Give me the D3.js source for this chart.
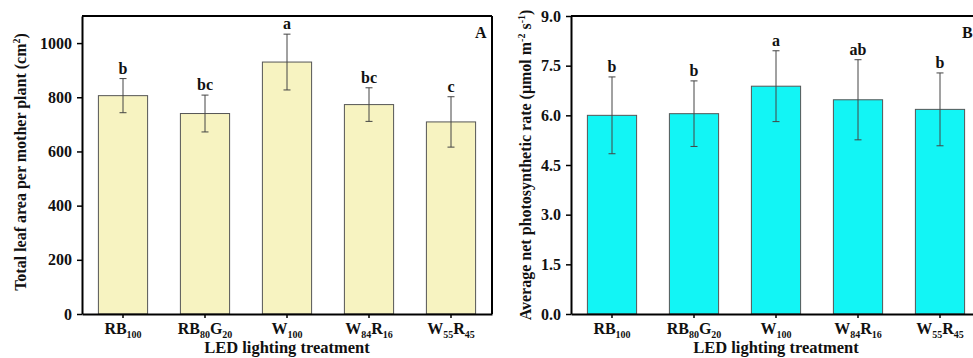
<!DOCTYPE html>
<html><head><meta charset="utf-8">
<script src="https://cdn.jsdelivr.net/npm/d3@7"></script>
<style>
body{margin:0;background:#fff;}
text{font-family:"Liberation Serif","Times New Roman",serif;font-weight:bold;fill:#111;}
</style></head>
<body><svg id="c" width="973" height="358"></svg>
<script>
// categories: [main, sub1, main2, sub2]
const categories = [
  ["RB","100","",""],
  ["RB","80","G","20"],
  ["W","100","",""],
  ["W","84","R","16"],
  ["W","55","R","45"]
];
const leafArea = [806, 740, 930, 773, 709];
const leafAreaErr = [63, 68, 103, 62, 93];
const leafLetters = ["b","bc","a","bc","c"];
const leafTicks = [0,200,400,600,800,1000];

const photo = [6.0, 6.05, 6.88, 6.47, 6.18];
const photoErr = [1.16, 0.99, 1.07, 1.21, 1.10];
const photoLetters = ["b","b","a","ab","b"];
const photoTicks = [0,1.5,3.0,4.5,6.0,7.5,9.0];

const svg = d3.select("#c");

function panel(opt){
  const g = svg.append("g");
  const x = d3.scaleBand().domain(d3.range(categories.length)).range([opt.x0, opt.x0+410]).paddingInner(0.4).paddingOuter(0.2);
  const y = d3.scaleLinear().domain([0, opt.max]).range([314, 16]);
  g.selectAll("rect.bar").data(opt.values).enter().append("rect")
    .attr("x",(d,i)=>x(i)).attr("width",x.bandwidth())
    .attr("y",d=>y(d)).attr("height",d=>y(0)-y(d))
    .attr("fill",opt.fill).attr("stroke","#555").attr("stroke-width",1);
  const cx = i => x(i)+x.bandwidth()/2;
  opt.values.forEach((v,i)=>{
    const e = opt.err[i];
    g.append("line").attr("x1",cx(i)).attr("x2",cx(i)).attr("y1",y(v+e)).attr("y2",y(v-e)).attr("stroke","#444").attr("stroke-width",1);
    [v+e, v-e].forEach(t=>g.append("line").attr("x1",cx(i)-3.5).attr("x2",cx(i)+3.5).attr("y1",y(t)).attr("y2",y(t)).attr("stroke","#444").attr("stroke-width",1));
    g.append("text").attr("x",cx(i)).attr("y",y(v+e)-5).attr("text-anchor","middle").style("font-size","16px").text(opt.letters[i]);
  });
  g.append("line").attr("x1",opt.x0).attr("x2",opt.x0+410).attr("y1",16).attr("y2",16).attr("stroke","#000").attr("stroke-width",2);
  g.append("line").attr("x1",opt.x0+410).attr("x2",opt.x0+410).attr("y1",16).attr("y2",314).attr("stroke","#000").attr("stroke-width",2);
  const ya = g.append("g").attr("transform",`translate(${opt.x0},0)`)
    .call(d3.axisLeft(y).tickValues(opt.ticks).tickFormat(opt.fmt).tickSize(5).tickSizeOuter(0).tickPadding(5));
  ya.select(".domain").attr("stroke","#000").attr("stroke-width",2);
  ya.selectAll(".tick line").attr("stroke","#000").attr("stroke-width",1.5);
  ya.selectAll(".tick text").style("font-size","16px").style("font-family","Liberation Serif").attr("fill","#111");
  const xa = g.append("g").attr("transform","translate(0,314)")
    .call(d3.axisBottom(x).tickSize(4).tickSizeOuter(0).tickFormat(""));
  xa.select(".domain").attr("stroke","#000").attr("stroke-width",2);
  xa.selectAll(".tick line").attr("stroke","#000").attr("stroke-width",1.5);
  categories.forEach((c,i)=>{
    const t = g.append("text").attr("x",cx(i)).attr("y",334).attr("text-anchor","middle").style("font-size","16px");
    t.append("tspan").text(c[0]);
    t.append("tspan").attr("dy",3.5).style("font-size","10px").text(c[1]);
    if(c[2]){
      t.append("tspan").attr("dy",-3.5).text(c[2]);
      t.append("tspan").attr("dy",3.5).style("font-size","10px").text(c[3]);
    }
  });
  g.append("text").attr("x",opt.x0+205).attr("y",353).attr("text-anchor","middle").style("font-size","16.5px").text("LED lighting treatment");
  g.append("text").attr("x",opt.x0+opt.letterX).attr("y",38).attr("text-anchor","start").style("font-size","16px").text(opt.panel);
  const yl = g.append("text").attr("transform",`translate(${opt.ylx},${opt.yly}) rotate(-90)`).attr("text-anchor","middle").style("font-size",opt.ylSize);
  opt.ylabel(yl);
}

panel({x0:82,max:1100,values:leafArea,err:leafAreaErr,letters:leafLetters,ticks:leafTicks,fmt:d3.format("d"),
  fill:"#f7f3c1",panel:"A",letterX:393,ylx:26,yly:162,ylSize:"16px",
  ylabel:t=>{t.append("tspan").text("Total leaf area per mother plant (cm");t.append("tspan").attr("dy",-6).style("font-size","10px").text("2");t.append("tspan").attr("dy",6).text(")");}});
panel({x0:571,max:9,values:photo,err:photoErr,letters:photoLetters,ticks:photoTicks,fmt:d3.format(".1f"),
  fill:"#12f5f5",panel:"B",letterX:391,ylx:531,yly:165,ylSize:"16px",
  ylabel:t=>{t.append("tspan").text("Average net photosynthetic rate (μmol m");t.append("tspan").attr("dy",-6).style("font-size","10px").text("-2");t.append("tspan").attr("dy",6).text(" s");t.append("tspan").attr("dy",-6).style("font-size","10px").text("-1");t.append("tspan").attr("dy",6).text(")");}});
</script></body></html>
